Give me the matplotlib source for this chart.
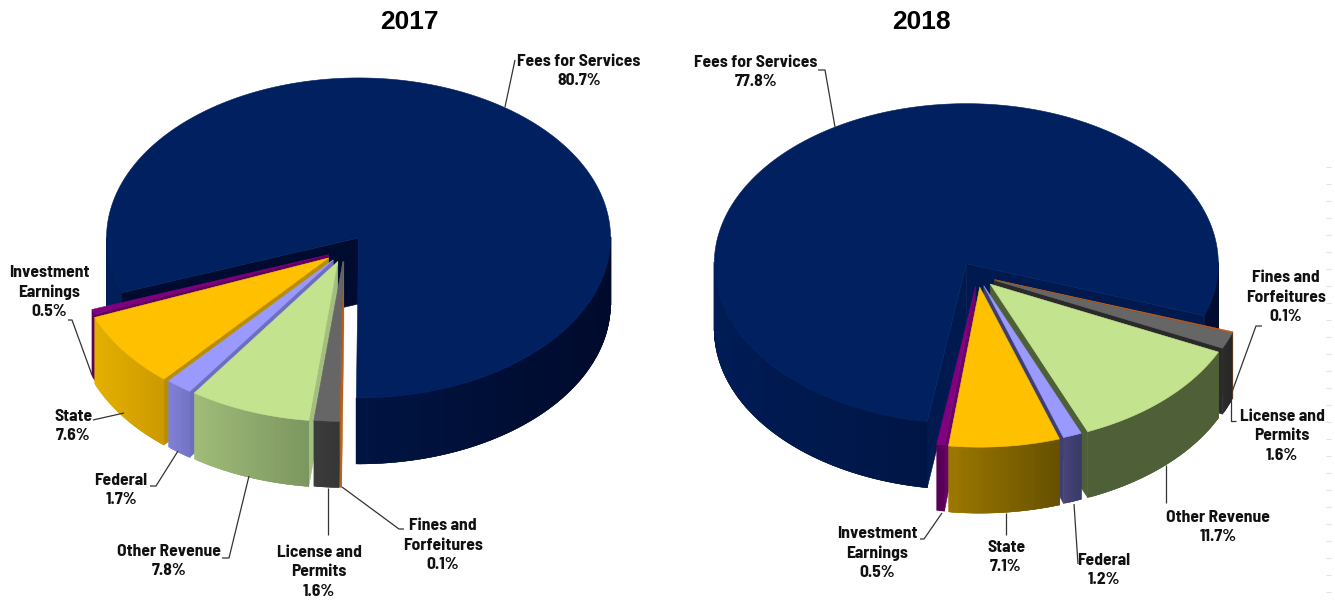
import numpy as np
import matplotlib
matplotlib.use('Agg')
import matplotlib.pyplot as plt
from matplotlib.colors import to_rgb
from matplotlib import font_manager

installed = {f.name for f in font_manager.fontManager.ttflist}
if 'Barlow Semi Condensed' in installed:
    LABEL_FONT, LABEL_SIZE = 'Barlow Semi Condensed', 12.6
else:
    LABEL_FONT, LABEL_SIZE = 'Liberation Sans', 10.8

names = ['Fees for Services', 'Investment\nEarnings', 'State', 'Federal',
         'Other Revenue', 'License and\nPermits', 'Fines and\nForfeitures']
values_2017 = [80.7, 0.5, 7.6, 1.7, 7.8, 1.6, 0.1]
values_2018 = [77.8, 0.5, 7.1, 1.2, 11.7, 1.6, 0.1]

top_colors = ['#002060', '#800080', '#FFC000', '#9999FF', '#C3E38E', '#666666', '#C55A11']
side_2017 = [('#001E58', '#000A2C'), ('#5C005C', '#5C005C'), ('#E4B000', '#CC9A00'),
             ('#8080D8', '#7474C4'), ('#A0BC78', '#7C9660'), ('#3C3C3C', '#363636'),
             ('#B0601C', '#B0601C')]
side_2018 = [('#001C55', '#000C30'), ('#580058', '#580058'), ('#9C7800', '#665000'),
             ('#44447A', '#3A3A66'), ('#4F6038', '#4F5F37'), ('#2C2C2C', '#262626'),
             ('#8A4A14', '#8A4A14')]
# colour of the flat cut faces
cut_2017 = ['#000B30', '#5C005C', '#B88E00', '#6E6EC0', '#A3BF7F', '#5A5A5A', '#B0601C']
cut_2018 = ['#001A50', '#6A006A', '#9C7800', '#3E3E70', '#4F5F37', '#2A2A2A', '#8A4A14']
explode_2017 = [0.1, 0.065, 0.075, 0.07, 0.07, 0.065, 0.065]
explode_2018 = [0.09, 0.065, 0.07, 0.065, 0.07, 0.07, 0.07]

RX, RY, DEPTH = 252, 160, 66


def mix(c1, c2, t):
    a, b = np.array(to_rgb(c1)), np.array(to_rgb(c2))
    return tuple(a + (b - a) * t)


def edge_point(cx, cy, ang):
    return cx + RX * np.cos(np.radians(ang)), cy - RY * np.sin(np.radians(ang))


def draw_slice(ax, cx, cy, a0, a1, explode, top, side, cut):
    mid = np.radians((a0 + a1) / 2)
    ox = cx + explode * RX * np.cos(mid)
    oy = cy - explode * RY * np.sin(mid)

    # radial cut faces, only the ones turned towards the viewer
    for ang, visible in ((a0, np.cos(np.radians(a0)) > 0.001), (a1, np.cos(np.radians(a1)) < -0.001)):
        if visible:
            ex, ey = edge_point(ox, oy, ang)
            ax.fill([ox, ex, ex, ox], [oy, ey, ey + DEPTH, oy + DEPTH], color=cut, lw=0.4, zorder=2)

    # outer rim, split into overlapping strips for the shading
    angles = np.arange(a0, a1 + 0.5, 0.5)
    angles = np.clip(angles, a0, a1)
    front = angles[np.sin(np.radians(angles)) <= 0.01]
    if len(front) > 1:
        shade = np.cos(np.radians(front))
        span = max(shade.max() - shade.min(), 1e-6)
        for i in range(len(front) - 1):
            # strips that jump across the back of the pie are skipped
            if front[i + 1] - front[i] > 0.51:
                continue
            s0, s1 = front[i], front[min(i + 2, len(front) - 1)]
            if s1 - s0 > 1.01:
                s1 = front[i + 1]
            p, q = edge_point(ox, oy, s0), edge_point(ox, oy, s1)
            ax.fill([p[0], q[0], q[0], p[0]], [p[1], q[1], q[1] + DEPTH, p[1] + DEPTH],
                    color=mix(side[0], side[1], (shade[i] - shade.min()) / span), lw=0.3, zorder=2)

    arc = np.linspace(a0, a1, max(int(a1 - a0) * 2, 2))
    xs, ys = edge_point(ox, oy, arc)
    ax.fill(np.r_[ox, xs], np.r_[oy, ys], color=top, lw=0.4, zorder=2)


def draw_pie(ax, cx, cy, values, start, explodes, sides, cuts):
    angles = start + np.cumsum([0] + list(values)) * 3.6 * 100 / sum(values)
    mids = (angles[:-1] + angles[1:]) / 2
    # back slices first, the ones facing the viewer last
    rest = sorted(range(1, len(values)), key=lambda i: -abs(np.cos(np.radians(mids[i]))))
    for i in [0] + rest:
        draw_slice(ax, cx, cy, angles[i], angles[i + 1], explodes[i], top_colors[i], sides[i], cuts[i])


def annotate(ax, values, places, leaders):
    for name, val, (x, y), line in zip(names, values, places, leaders):
        ax.text(x, y, f'{name}\n{val:.1f}%', ha='center', va='center', family=LABEL_FONT,
                fontsize=LABEL_SIZE, fontweight='bold', color='#111111', linespacing=1.38, zorder=5)
        ax.plot(*zip(*line), color='#333333', lw=0.9, zorder=4, solid_capstyle='butt')


fig = plt.figure(figsize=(13.35, 6.03), dpi=100)
ax = fig.add_axes([0, 0, 1, 1])
ax.set_xlim(0, 1335)
ax.set_ylim(603, 0)
ax.axis('off')

draw_pie(ax, 344, 251, values_2017, 269.5, explode_2017, side_2017, cut_2017)
draw_pie(ax, 978, 276, values_2018, 341, explode_2018, side_2018, cut_2018)

ax.text(409, 22, '2017', ha='center', va='center', family='Liberation Sans',
        fontsize=19, fontweight='bold', color='black')
ax.text(921, 22, '2018', ha='center', va='center', family='Liberation Sans',
        fontsize=19, fontweight='bold', color='black')

places_2017 = [(579, 71), (49, 292), (73, 426), (121, 490), (169, 561), (319, 572), (443, 545)]
leaders_2017 = [[(515, 60), (505, 107)], [(68, 320), (72, 320), (92, 375)], [(93, 420), (124, 413)],
                [(150, 486), (156, 486), (178, 451)], [(222, 558), (229, 558), (249, 476)],
                [(328, 535), (328, 488)], [(404, 529), (399, 529), (342, 487)]]
places_2018 = [(756, 72), (877, 553), (1006, 557), (1104, 570), (1218, 527), (1282, 436), (1286, 297)]
leaders_2018 = [[(818, 70), (825, 70), (835, 127)], [(920, 539), (924, 539), (942, 513)],
                [(1006, 535), (1006, 513)], [(1078, 564), (1074, 504)], [(1166, 503), (1166, 465)],
                [(1236, 421), (1231, 421), (1231, 400)], [(1262, 326), (1256, 326), (1232, 392)]]
annotate(ax, values_2017, places_2017, leaders_2017)
annotate(ax, values_2018, places_2018, leaders_2018)

# faint tick marks down the right edge of the slide
ax.hlines(np.arange(167, 600, 17), 1326, 1331, color='#E4E4E4', lw=0.8, zorder=1)

fig.savefig('out.png', dpi=100)
